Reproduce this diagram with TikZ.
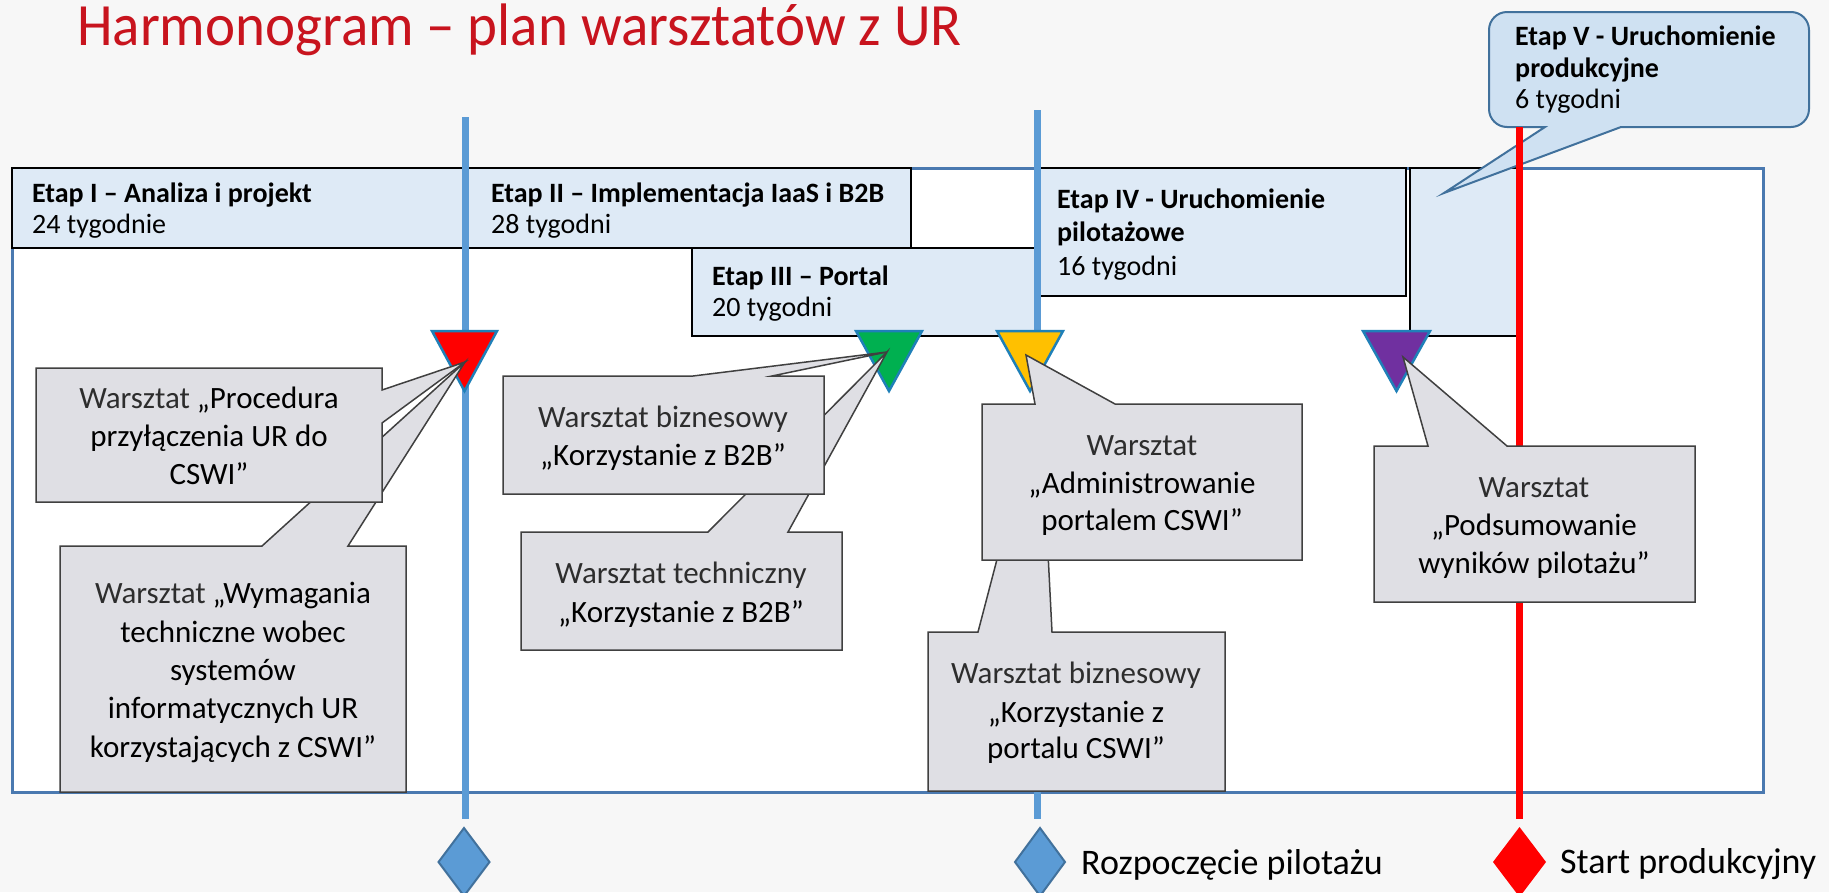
\documentclass[tikz,border=0pt]{standalone}
\usepackage{fontspec}
\setmainfont{Carlito}
\definecolor{bgcol}{RGB}{247,247,247}
\definecolor{frameline}{RGB}{74,121,176}
\definecolor{stagefill}{RGB}{222,234,246}
\definecolor{vfill}{RGB}{207,225,242}
\definecolor{vline}{RGB}{65,113,156}
\definecolor{calloutfill}{RGB}{223,223,228}
\definecolor{calloutline}{RGB}{64,64,64}
\definecolor{msblue}{RGB}{91,155,213}
\definecolor{msdark}{RGB}{65,113,156}
\definecolor{trigreen}{RGB}{0,176,80}
\definecolor{triyellow}{RGB}{255,192,0}
\definecolor{tripurple}{RGB}{112,48,160}
\definecolor{triline}{RGB}{31,128,184}
\definecolor{titlered}{RGB}{200,20,30}
\definecolor{lighttext}{RGB}{45,45,45}
\begin{document}
\begin{tikzpicture}[x=1pt,y=-1pt,
  stagebox/.style={draw=black, line width=2.5pt, fill=stagefill},
  calloutbox/.style={draw=calloutline, line width=1.5pt, fill=calloutfill, line join=miter},
  tri/.style={draw=triline, line width=2.5pt, line join=miter},
  ctext/.style={anchor=base, inner sep=0pt, font=\fontsize{31}{31}\selectfont},
  stext/.style={anchor=base west, inner sep=0pt, font=\fontsize{28}{28}\selectfont},
  sbold/.style={anchor=base west, inner sep=0pt, font=\fontsize{28}{28}\selectfont\bfseries},
  msline/.style={draw=msblue, line width=7pt},
  redline/.style={draw=red, line width=7pt},
  lbl/.style={anchor=base west, inner sep=0pt, font=\fontsize{36}{36}\selectfont}
]
\newcommand{\lw}[1]{{\color{lighttext}#1}}
\useasboundingbox (0,0) rectangle (1829,892);
\clip (0,0) rectangle (1829,892);
\fill[bgcol] (0,0) rectangle (1829,892);

% title
\node[anchor=base west, inner sep=0pt, text=titlered, font=\fontsize{60}{60}\selectfont] (title) at (77,45) {\scalebox{0.95}[1]{Harmonogram – plan warsztatów z UR}};

% frame
\draw[draw=frameline, line width=3pt, fill=white] (12,168) rectangle (1763,792);

% stage boxes
\draw[stagebox] (12,168) rectangle (467,248);
\draw[stagebox] (467,168) rectangle (911,248);
\draw[stagebox] (692,248) rectangle (1036,336);
\draw[stagebox] (1040,168) rectangle (1406,296);
\draw[stagebox] (1410,168) rectangle (1519,336);

\node[sbold] (e1a) at (32,202) {Etap I – Analiza i projekt};
\node[stext] (e1b) at (32,233) {24 tygodnie};
\node[sbold] (e2a) at (491,202) {Etap II – Implementacja IaaS i B2B};
\node[stext] (e2b) at (491,233) {28 tygodni};
\node[sbold] (e3a) at (712,285) {Etap III – Portal};
\node[stext] (e3b) at (712,316) {20 tygodni};
\node[sbold] (e4a) at (1057,208) {Etap IV - Uruchomienie};
\node[sbold] (e4b) at (1057,241) {pilotażowe};
\node[stext] (e4c) at (1057,275) {16 tygodni};

% Etap V callout
\coordinate (tipV) at (1444,193);
\filldraw[fill=vfill, draw=vline, line width=2pt, line join=miter]
  (1507,12) -- (1791,12) arc[start angle=-90,end angle=0,radius=18]
  -- (1809,109) arc[start angle=0,end angle=90,radius=18]
  -- (1621,127) -- (tipV) -- (1545,127) -- (1507,127)
  arc[start angle=90,end angle=180,radius=18]
  -- (1489,30) arc[start angle=180,end angle=270,radius=18] -- cycle;
\node[sbold] (e5a) at (1515,45) {Etap V - Uruchomienie};
\node[sbold] (e5b) at (1515,77) {produkcyjne};
\node[stext] (e5c) at (1515,108) {6 tygodni};

% milestone lines
\coordinate (m1top) at (465,117);
\coordinate (m1bot) at (465,819);
\coordinate (m2top) at (1037,110);
\coordinate (m2bot) at (1037,819);
\coordinate (m3top) at (1519,127);
\coordinate (m3bot) at (1519,819);
\draw[msline] (m1top) -- (m1bot);
\draw[msline] (m2top) -- (m2bot);
\draw[redline] (m3top) -- (m3bot);

% triangles
\filldraw[tri, fill=red] (432,331) -- (497,331) -- (464.5,391) -- cycle;
\filldraw[tri, fill=trigreen] (856,331) -- (922,331) -- (889,391) -- cycle;
\filldraw[tri, fill=triyellow] (997,331) -- (1063,331) -- (1030,391) -- cycle;
\filldraw[tri, fill=tripurple] (1363,331) -- (1430,331) -- (1396.5,391) -- cycle;

\coordinate (tipR) at (465,362);
\coordinate (tipG) at (887,352);
\coordinate (tipY) at (1026,355);
\coordinate (tipYb) at (1040,395);
\coordinate (tipP) at (1403,357);

% callout 2 (Wymagania) then 1 (Procedura)
\filldraw[calloutbox] (60,546) -- (262,546) -- (tipR) -- (348,546) -- (406,546) -- (406,792) -- (60,792) -- cycle;
\filldraw[calloutbox] (36,368) -- (382,368) -- (382,390) -- (tipR) -- (382,423) -- (382,502) -- (36,502) -- cycle;
\node[ctext] (c1a) at (209,408) {\lw{Warsztat} „Procedura};
\node[ctext] (c1b) at (209,446) {przyłączenia UR do};
\node[ctext] (c1c) at (209,484) {CSWI”};
\node[ctext] (c2a) at (233,603) {\lw{Warsztat} „Wymagania};
\node[ctext] (c2b) at (233,642) {techniczne wobec};
\node[ctext] (c2c) at (233,680) {systemów};
\node[ctext] (c2d) at (233,718) {informatycznych UR};
\node[ctext] (c2e) at (233,757) {korzystających z CSWI”};

% callout 4 then 3
\filldraw[calloutbox] (521,532) -- (708,532) -- (tipG) -- (788,532) -- (842,532) -- (842,650) -- (521,650) -- cycle;
\filldraw[calloutbox] (503,376) -- (693,376) -- (tipG) -- (772,376) -- (824,376) -- (824,494) -- (503,494) -- cycle;
\node[ctext] (c3a) at (663,427) {\lw{Warsztat biznesowy}};
\node[ctext] (c3b) at (663,465) {„Korzystanie z B2B”};
\node[ctext] (c4a) at (681,583) {\lw{Warsztat techniczny}};
\node[ctext] (c4b) at (681,622) {„Korzystanie z B2B”};

% callout 6 then 5
\filldraw[calloutbox] (928,632) -- (978,632) -- (tipYb) -- (1052,632) -- (1225,632) -- (1225,791) -- (928,791) -- cycle;
\filldraw[calloutbox] (982,404) -- (1035,404) -- (tipY) -- (1115,404) -- (1302,404) -- (1302,560) -- (982,560) -- cycle;
\node[ctext] (c5a) at (1142,455) {\lw{Warsztat}};
\node[ctext] (c5b) at (1142,493) {„Administrowanie};
\node[ctext] (c5c) at (1142,530) {portalem CSWI”};
\node[ctext] (c6a) at (1076,683) {\lw{Warsztat biznesowy}};
\node[ctext] (c6b) at (1076,722) {„Korzystanie z};
\node[ctext] (c6c) at (1076,758) {portalu CSWI”};

% callout 7
\filldraw[calloutbox] (1374,446) -- (1428,446) -- (tipP) -- (1507,446) -- (1695,446) -- (1695,602) -- (1374,602) -- cycle;
\node[ctext] (c7a) at (1534,497) {\lw{Warsztat}};
\node[ctext] (c7b) at (1534,535) {„Podsumowanie};
\node[ctext] (c7c) at (1534,573) {wyników pilotażu”};

% milestone diamonds
\filldraw[fill=msblue, draw=msdark, line width=2pt] (464,828) -- (489.5,862) -- (464,896) -- (438.5,862) -- cycle;
\filldraw[fill=msblue, draw=msdark, line width=2pt] (1040,828) -- (1065,862) -- (1040,896) -- (1015,862) -- cycle;
\fill[red] (1519.5,827) -- (1546,862) -- (1519.5,897) -- (1493,862) -- cycle;
\node[lbl] (lab1) at (1081,874) {Rozpoczęcie pilotażu};
\node[lbl] (lab2) at (1560,873) {Start produkcyjny};
\end{tikzpicture}
\end{document}
